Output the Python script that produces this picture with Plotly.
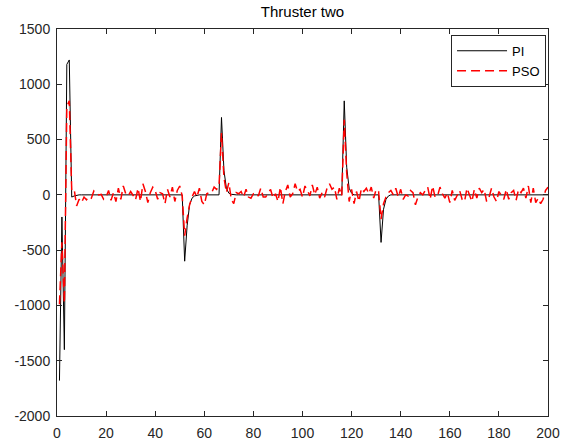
import plotly.graph_objects as go

t = list(range(1, 201))

pi_vals = [-1680, -200, -1400, 1180, 1220, -20, -10, -3] + [0] * 43 + \
    [-600, -280, -90, -30, -10, -3] + [0] * 9 + \
    [700, 220, 60, 15, 5] + [0] * 45 + \
    [850, 250, 60, 15] + [0] * 11 + \
    [-430, -130, -40, -10] + [0] * 65

pso_vals = [
    -990, -430, -980, 800, 850, 40, 50, -100, -40, -70,
    -20, -45, -15, -30, 35, 10, 0, 5, -40, -20,
    40, -50, 20, -60, 60, -40, 80, 10, -10, 30,
    -5, -45, 60, -60, 100, 30, -70, 20, 70, 40,
    -40, 20, 10, -80, 50, -20, 70, -60, 40, 80,
    -10, -370, -210, -90, -20, 30, -20, 60, -60, -90,
    10, 20, 20, 70, 50, 80, 560, 160, 20, 110,
    -40, -80, 20, 10, 30, -20, 50, -20, -30, 10,
    20, -10, 60, -20, -20, 20, 50, -30, 10, -60,
    70, -80, 30, 90, -20, 10, 100, 30, 50, -20,
    80, 40, -10, 90, 0, 70, -30, 20, -20, 60,
    100, 50, 70, -40, 60, -10, 680, 200, -60, 50,
    -80, 30, -60, 60, 30, 60, 10, 70, -30, 50,
    30, -220, -80, -20, 20, 40, 0, 60, -20, 50,
    -40, 0, -10, 40, 20, -90, -20, 20, 0, 40,
    70, -40, 80, -20, -10, 70, 10, -30, 20, -70,
    40, -50, -10, 40, -40, -60, 60, 0, -60, 50,
    -30, 60, 20, 50, -60, -20, 60, -20, -60, 30,
    -10, -40, 50, -40, 20, 40, -50, 50, 20, 60,
    -30, 80, -70, 60, -70, -30, -80, -40, 40, 70,
]

x_ticks = [0, 20, 40, 60, 80, 100, 120, 140, 160, 180, 200]
x_tick_text = [str(v) for v in x_ticks]
y_ticks = [-2000, -1500, -1000, -500, 0, 500, 1000, 1500]
y_tick_text = [str(v) for v in y_ticks]

font = dict(family="Liberation Sans, Arial, sans-serif", size=14, color="#262626")

fig = go.Figure()
fig.add_trace(go.Scatter(x=t, y=pi_vals, mode="lines", name="PI",
                         line=dict(color="black", width=1)))
fig.add_trace(go.Scatter(x=t, y=pso_vals, mode="lines", name="PSO",
                         line=dict(color="red", width=1.5, dash="9px,5px")))

axis_common = dict(showline=True, linecolor="#262626", linewidth=1, mirror="ticks",
                   ticks="inside", ticklen=5, tickcolor="#262626",
                   showgrid=False, zeroline=False, tickfont=font, automargin=False)

fig.update_layout(
    width=568, height=443,
    margin=dict(l=57, r=20, t=29, b=27),
    paper_bgcolor="white", plot_bgcolor="white",
    title=dict(text="Thruster two", x=0.5, xref="paper", y=1 - 12 / 443, yanchor="middle",
               font=dict(family="Liberation Sans, Arial, sans-serif", size=15, color="black")),
    showlegend=True,
    legend=dict(x=0.996, y=0.985, xanchor="right", yanchor="top",
                bordercolor="#262626", borderwidth=1, bgcolor="white",
                font=dict(family="Liberation Sans, Arial, sans-serif", size=13, color="black"),
                tracegroupgap=0, itemwidth=50),
    xaxis=dict(range=[0, 200], tickvals=x_ticks, ticktext=x_tick_text,
               ticklabelstandoff=4, **axis_common),
    yaxis=dict(range=[-2000, 1500], tickvals=y_ticks, ticktext=y_tick_text,
               ticklabelstandoff=3, **axis_common),
)

fig.write_html("out.html",
               config={"displayModeBar": False},
               post_script="document.body.style.margin='0';document.body.style.overflow='hidden';")
